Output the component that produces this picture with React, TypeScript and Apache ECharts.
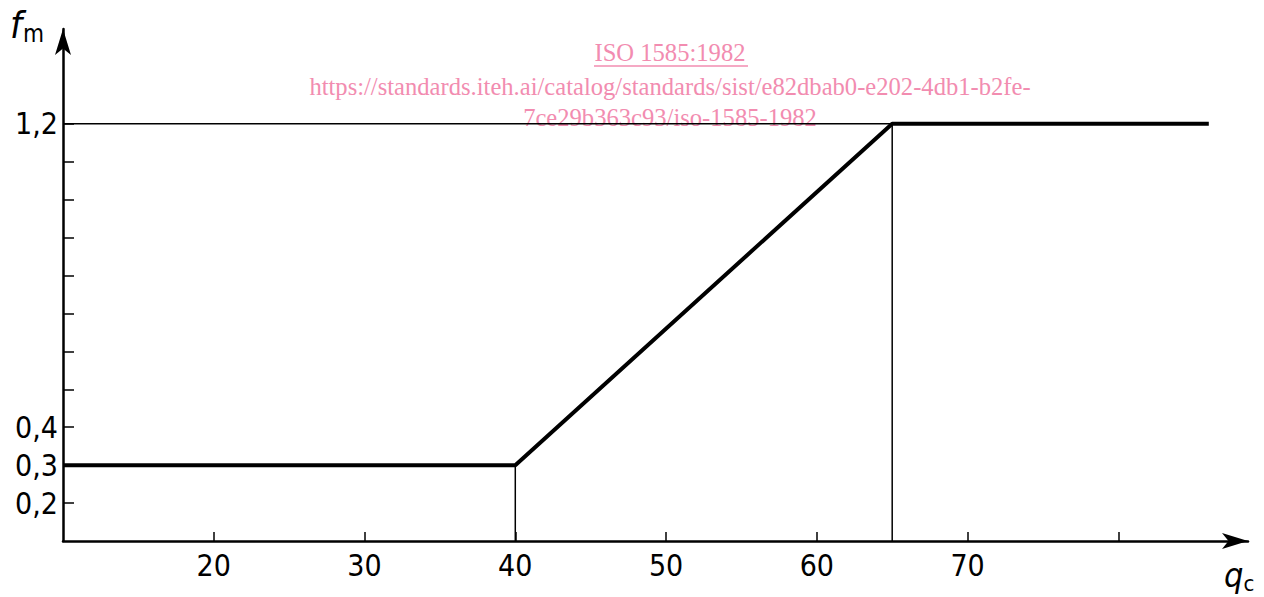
import React, { useEffect, useRef } from "react";
import * as echarts from "echarts";

const curve: [number, number][] = [
  [10, 0.3],
  [40, 0.3],
  [65, 1.2],
  [86, 1.2],
];
const guideH: [number, number][] = [
  [10, 1.2],
  [65, 1.2],
];
const guide40: [number, number][] = [
  [40, 0.1],
  [40, 0.3],
];
const guide65: [number, number][] = [
  [65, 0.1],
  [65, 1.2],
];
const xTicks = [20, 30, 40, 50, 60, 70, 80];
const xLabels = [20, 30, 40, 50, 60, 70];
const yTicks = [0.2, 0.3, 0.4, 0.5, 0.6, 0.7, 0.8, 0.9, 1.0, 1.1, 1.2];
const yLabels = [0.2, 0.3, 0.4, 1.2];
const watermark = [
  "ISO 1585:1982",
  "https://standards.iteh.ai/catalog/standards/sist/e82dbab0-e202-4db1-b2fe-",
  "7ce29b363c93/iso-1585-1982",
];

const FONT = "DejaVu Sans Condensed";
const PINK = "#f28cb0";

export default function App() {
  const ref = useRef<HTMLDivElement>(null);
  useEffect(() => {
    if (!ref.current) return;
    const chart = echarts.init(ref.current, undefined, { renderer: "svg" });
    const thin = { color: "#000", width: 1.5 };
    const wm = (text: string, y: number) => ({
      type: "text",
      x: 670,
      y,
      style: {
        text,
        fontFamily: "Liberation Serif",
        fontSize: 24.6,
        fill: PINK,
        align: "center",
        verticalAlign: "middle",
      },
    });
    chart.setOption({
      animation: false,
      backgroundColor: "#fff",
      grid: { left: 63, right: 16, top: 29, bottom: 56 },
      xAxis: {
        type: "value",
        min: 10,
        max: 88.6,
        splitLine: { show: false },
        axisLine: {
          lineStyle: { color: "#000", width: 2.5 },
          symbol: ["none", "arrow"],
          symbolSize: [12, 26],
        },
        axisTick: {
          inside: true,
          length: 9,
          lineStyle: { color: "#000", width: 1.5 },
          customValues: xTicks,
        },
        axisLabel: {
          customValues: xLabels,
          color: "#000",
          fontFamily: FONT,
          fontSize: 30,
          margin: 9,
        },
      },
      yAxis: {
        type: "value",
        min: 0.1,
        max: 1.45,
        splitLine: { show: false },
        axisLine: {
          lineStyle: { color: "#000", width: 2.5 },
          symbol: ["none", "arrow"],
          symbolSize: [12, 26],
        },
        axisTick: {
          inside: true,
          length: 11,
          lineStyle: { color: "#000", width: 1.5 },
          customValues: yTicks,
        },
        axisLabel: {
          customValues: yLabels,
          color: "#000",
          fontFamily: FONT,
          fontSize: 30,
          margin: 5,
          formatter: (v: number) => String(v).replace(".", ","),
        },
      },
      graphic: [
        {
          type: "text",
          left: 10,
          top: 6,
          style: {
            text: "{f|f}{m|m}",
            rich: {
              f: { fontFamily: FONT, fontStyle: "italic", fontSize: 38, fill: "#000" },
              m: { fontFamily: FONT, fontSize: 24, fill: "#000", padding: [18, 0, 0, 1] },
            },
          },
        },
        {
          type: "text",
          left: 1224,
          top: 558,
          style: {
            text: "{q|q}{c|c}",
            rich: {
              q: { fontFamily: FONT, fontStyle: "italic", fontSize: 34, fill: "#000" },
              c: { fontFamily: FONT, fontSize: 22, fill: "#000", padding: [16, 0, 0, 0] },
            },
          },
        },
        wm(watermark[0], 52),
        {
          type: "line",
          shape: { x1: 594, y1: 66, x2: 748, y2: 66 },
          style: { stroke: PINK, lineWidth: 1.5 },
        },
        wm(watermark[1], 86),
        wm(watermark[2], 117),
      ],
      series: [
        { type: "line", data: guideH, symbol: "none", lineStyle: thin, silent: true },
        { type: "line", data: guide40, symbol: "none", lineStyle: thin, silent: true },
        { type: "line", data: guide65, symbol: "none", lineStyle: thin, silent: true },
        {
          type: "line",
          data: curve,
          symbol: "none",
          lineStyle: { color: "#000", width: 4 },
          silent: true,
          z: 3,
        },
      ],
    });
    return () => chart.dispose();
  }, []);
  return (
    <div
      ref={ref}
      style={{ position: "absolute", left: 0, top: 0, width: 1264, height: 597 }}
    />
  );
}
